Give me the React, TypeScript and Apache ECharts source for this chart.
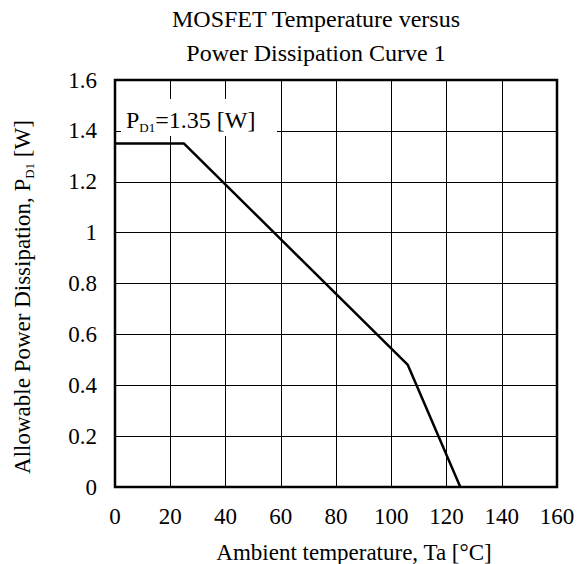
import React, { useEffect, useRef } from "react";
import * as echarts from "echarts";

const curveTemps = [0, 25, 106, 125];
const curvePower = [1.35, 1.35, 0.48, 0];
const xTickLabels = ["0", "20", "40", "60", "80", "100", "120", "140", "160"];
const yTickLabels = ["0", "0.2", "0.4", "0.6", "0.8", "1", "1.2", "1.4", "1.6"];
const titleLines = ["MOSFET Temperature versus", "Power Dissipation Curve 1"];
const xName = "Ambient temperature, Ta [°C]";
const yNameMain = "Allowable Power Dissipation, P";
const yNameSub = "D1";
const yNameTail = " [W]";
const annoMain = "P";
const annoSub = "D1";
const annoTail = "=1.35 [W]";

const FONT = "Liberation Serif";

export default function App() {
  const ref = useRef<HTMLDivElement>(null);
  useEffect(() => {
    if (!ref.current) return;
    const chart = echarts.init(ref.current, null, { renderer: "svg" });
    const data = curveTemps.map((t, i) => [t, curvePower[i]]);
    chart.setOption({
      animation: false,
      backgroundColor: "#fff",
      textStyle: { fontFamily: FONT, color: "#000" },
      title: {
        text: titleLines.join("\n"),
        left: 311,
        textAlign: "center",
        top: -3,
        textStyle: {
          fontFamily: FONT,
          fontSize: 24,
          fontWeight: "normal",
          color: "#000",
          lineHeight: 34,
        },
      },
      grid: {
        left: 115,
        right: 22,
        top: 80,
        bottom: 77,
        show: true,
        borderColor: "#000",
        borderWidth: 2.5,
        backgroundColor: "transparent",
      },
      xAxis: {
        type: "value",
        min: 0,
        max: 160,
        interval: 20,
        axisLine: { show: false },
        axisTick: { show: false },
        splitLine: { show: true, lineStyle: { color: "#000", width: 1 } },
        axisLabel: {
          margin: 18,
          fontFamily: FONT,
          fontSize: 23,
          color: "#000",
          formatter: (v: number) => xTickLabels[Math.round(v / 20)] ?? "",
        },
      },
      yAxis: {
        type: "value",
        min: 0,
        max: 1.6,
        interval: 0.2,
        axisLine: { show: false },
        axisTick: { show: false },
        splitLine: { show: true, lineStyle: { color: "#000", width: 1 } },
        axisLabel: {
          margin: 18,
          fontFamily: FONT,
          fontSize: 23,
          color: "#000",
          formatter: (v: number) => yTickLabels[Math.round(v / 0.2)] ?? "",
        },
      },
      series: [
        {
          type: "line",
          data,
          symbol: "none",
          lineStyle: { color: "#000", width: 2.5 },
          z: 5,
        },
      ],
      graphic: [
        {
          type: "text",
          x: 354,
          y: 552,
          style: {
            text: xName,
            fontFamily: FONT,
            fontSize: 23,
            fill: "#000",
            align: "center",
            verticalAlign: "middle",
          },
        },
        {
          type: "text",
          x: 22,
          y: 297,
          rotation: Math.PI / 2,
          style: {
            text: `{a|${yNameMain}}{s|${yNameSub}}{a|${yNameTail}}`,
            align: "center",
            verticalAlign: "middle",
            fill: "#000",
            rich: {
              a: { fontFamily: FONT, fontSize: 23, lineHeight: 28, fill: "#000" },
              s: {
                fontFamily: FONT,
                fontSize: 13,
                lineHeight: 18,
                verticalAlign: "bottom",
                fill: "#000",
              },
            },
          },
        },
        {
          type: "rect",
          z: 100,
          shape: { x: 121, y: 99, width: 156, height: 37 },
          style: { fill: "#fff" },
        },
        {
          type: "text",
          z: 101,
          x: 126,
          y: 120,
          style: {
            text: `{a|${annoMain}}{s|${annoSub}}{a|${annoTail}}`,
            align: "left",
            verticalAlign: "middle",
            fill: "#000",
            rich: {
              a: { fontFamily: FONT, fontSize: 24, lineHeight: 28, fill: "#000" },
              s: {
                fontFamily: FONT,
                fontSize: 13,
                lineHeight: 18,
                verticalAlign: "bottom",
                fill: "#000",
              },
            },
          },
        },
      ],
    });
    return () => chart.dispose();
  }, []);
  return (
    <div
      ref={ref}
      style={{ position: "fixed", left: 0, top: 0, width: 579, height: 564 }}
    />
  );
}
